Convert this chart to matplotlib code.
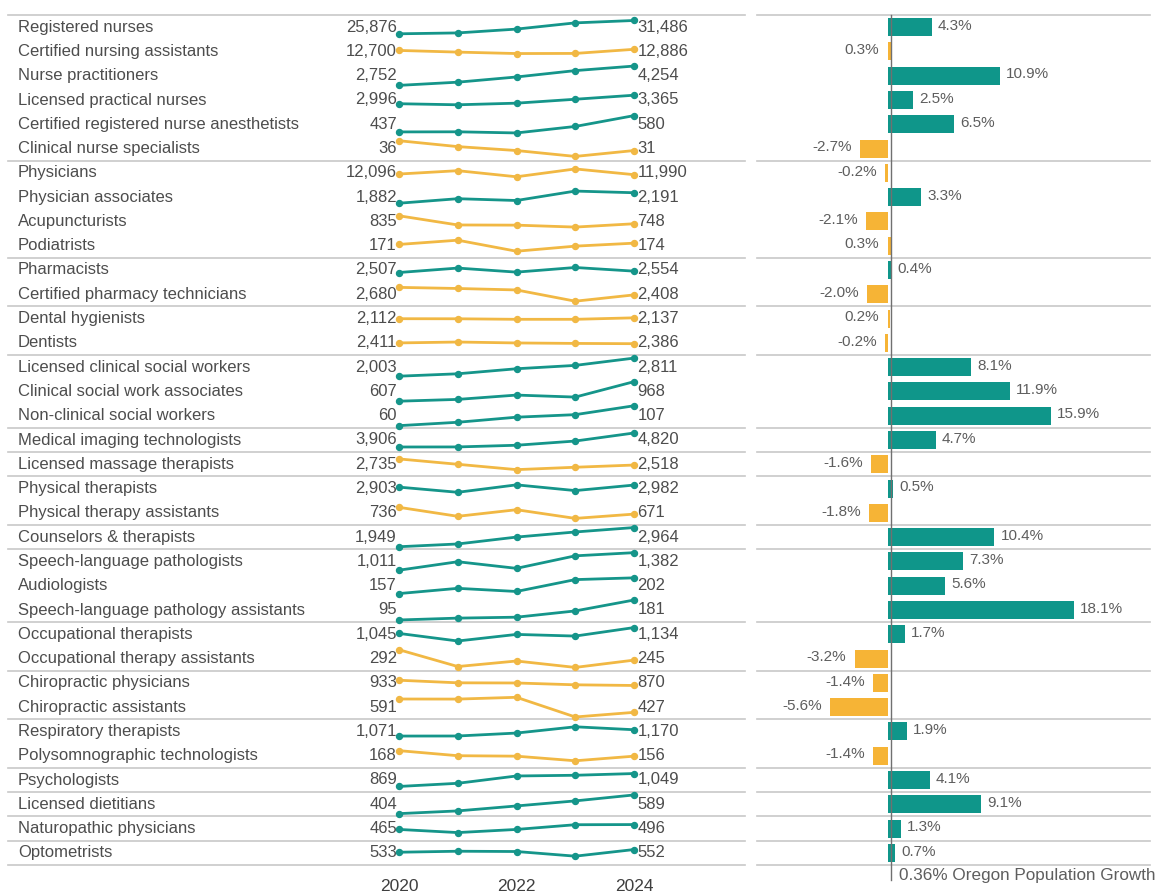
import matplotlib
matplotlib.use("Agg")
import matplotlib.pyplot as plt
import numpy as np

# ---------------- data ----------------
categories = [
    "Registered nurses", "Certified nursing assistants", "Nurse practitioners",
    "Licensed practical nurses", "Certified registered nurse anesthetists",
    "Clinical nurse specialists", "Physicians", "Physician associates",
    "Acupuncturists", "Podiatrists", "Pharmacists", "Certified pharmacy technicians",
    "Dental hygienists", "Dentists", "Licensed clinical social workers",
    "Clinical social work associates", "Non-clinical social workers",
    "Medical imaging technologists", "Licensed massage therapists",
    "Physical therapists", "Physical therapy assistants", "Counselors & therapists",
    "Speech-language pathologists", "Audiologists",
    "Speech-language pathology assistants", "Occupational therapists",
    "Occupational therapy assistants", "Chiropractic physicians",
    "Chiropractic assistants", "Respiratory therapists",
    "Polysomnographic technologists", "Psychologists", "Licensed dietitians",
    "Naturopathic physicians", "Optometrists",
]
years = [2020, 2021, 2022, 2023, 2024]
v2020 = [25876, 12700, 2752, 2996, 437, 36, 12096, 1882, 835, 171, 2507, 2680, 2112, 2411,
         2003, 607, 60, 3906, 2735, 2903, 736, 1949, 1011, 157, 95, 1045, 292, 933, 591,
         1071, 168, 869, 404, 465, 533]
v2021 = [26250, 12420, 3000, 2950, 438, 33, 12650, 2015, 735, 181, 2660, 2640, 2110, 2440,
         2110, 640, 68, 3910, 2545, 2705, 650, 2095, 1190, 172, 103, 930, 216, 902, 590,
         1072, 157, 913, 431, 445, 540]
v2022 = [27860, 12180, 3405, 3020, 428, 31, 11640, 1962, 733, 155, 2520, 2587, 2095, 2410,
         2335, 720, 80, 4020, 2355, 2990, 713, 2460, 1050, 163, 107, 1030, 241, 900, 612,
         1118, 156, 1015, 480, 465, 538]
v2023 = [30480, 12200, 3900, 3190, 485, 28, 12940, 2240, 712, 167, 2680, 2180, 2095, 2395,
         2485, 683, 86, 4295, 2440, 2770, 630, 2730, 1315, 197, 134, 1005, 212, 878, 370,
         1216, 146, 1025, 530, 495, 505]
v2024 = [31486, 12886, 4254, 3365, 580, 31, 11990, 2191, 748, 174, 2554, 2408, 2137, 2386,
         2811, 968, 107, 4820, 2518, 2982, 671, 2964, 1382, 202, 181, 1134, 245, 870, 427,
         1170, 156, 1049, 589, 496, 552]
growth = [4.3, 0.3, 10.9, 2.5, 6.5, -2.7, -0.2, 3.3, -2.1, 0.3, 0.4, -2.0, 0.2, -0.2,
          8.1, 11.9, 15.9, 4.7, -1.6, 0.5, -1.8, 10.4, 7.3, 5.6, 18.1, 1.7, -3.2, -1.4,
          -5.6, 1.9, -1.4, 4.1, 9.1, 1.3, 0.7]
group_sizes = [6, 4, 2, 2, 3, 1, 1, 2, 1, 3, 2, 2, 2, 1, 1, 1, 1]
pop_growth = 0.36
pop_label = "0.36% Oregon Population Growth"
year_ticks = [2020, 2022, 2024]

# ---------------- style ----------------
TEAL_LINE = "#15958a"
GOLD_LINE = "#f1b844"
TEAL_BAR = "#0f968a"
GOLD_BAR = "#f6b436"
TEXT = "#4d4d4d"
GRID = "#c8c8c8"

plt.rcParams['font.family'] = ['Liberation Sans', 'DejaVu Sans']

W, H = 1158, 893
fig = plt.figure(figsize=(W / 100, H / 100), dpi=100)
n = len(categories)

top_px, bot_px = 15, 865


def fy(px):
    return 1 - px / H


ax_l = fig.add_axes([8 / W, fy(bot_px), (745 - 8) / W, (bot_px - top_px) / H])
ax_r = fig.add_axes([757 / W, fy(bot_px), (1150 - 757) / W, (bot_px - top_px) / H])

px_per_year = (634 - 399) / 4
xlim_l = (2020 - (399 - 8) / px_per_year, 2024 + (745 - 634) / px_per_year)
ax_l.set_xlim(*xlim_l)
ax_l.set_ylim(n, 0)

for ax in (ax_l, ax_r):
    for s in ax.spines.values():
        s.set_visible(False)
    ax.set_yticks([])
    ax.patch.set_alpha(0)

# separators
bounds = np.cumsum([0] + group_sizes)
for b in bounds:
    ax_l.axhline(b, color=GRID, lw=1.2, clip_on=False, zorder=0)
    ax_r.axhline(b, color=GRID, lw=1.2, clip_on=False, zorder=0)

# sparklines
series = np.array([v2020, v2021, v2022, v2023, v2024], dtype=float).T
row_px = (bot_px - top_px) / n
for i in range(n):
    vals = series[i]
    color = TEAL_LINE if growth[i] > pop_growth else GOLD_LINE
    lo, hi = vals.min(), vals.max()
    r = (hi - lo) / lo * 100
    frac = (20 / row_px) * np.tanh(r / 27)
    c = (hi + lo) / 2
    half = (hi - lo) / (2 * frac) if frac > 0 else 1
    iax = ax_l.inset_axes([0, 1 - (i + 1) / n, 1, 1 / n])
    iax.set_xlim(*xlim_l)
    iax.set_ylim(c - half, c + half)
    iax.axis('off')
    iax.patch.set_alpha(0)
    iax.plot(years, vals, color=color, lw=2.0, marker='o', ms=4.3,
             solid_joinstyle='round', clip_on=False, zorder=3)

    yc = i + 0.5
    ax_l.annotate(categories[i], xy=(0, yc), xycoords=('axes fraction', 'data'),
                  xytext=(7.2, 0), textcoords='offset points', ha='left', va='center',
                  fontsize=12, color=TEXT)
    ax_l.annotate(f"{v2020[i]:,}", xy=(years[0], yc), xytext=(-1.5, 0),
                  textcoords='offset points', ha='right', va='center',
                  fontsize=12, color=TEXT)
    ax_l.annotate(f"{v2024[i]:,}", xy=(years[-1], yc), xytext=(2.5, 0),
                  textcoords='offset points', ha='left', va='center',
                  fontsize=12, color=TEXT)

ax_l.set_xticks(year_ticks)
ax_l.set_xticklabels([str(y) for y in year_ticks])
ax_l.tick_params(axis='x', length=0, pad=10, labelsize=12.5, labelcolor="#3f3f3f")

# bars
px_per_pct = 10.28
ax_r.set_xlim(-(887.5 - 757) / px_per_pct, (1150 - 887.5) / px_per_pct)
ax_r.set_ylim(n, 0)
ax_r.set_xticks([])
ypos = np.arange(n) + 0.5
bar_colors = [TEAL_BAR if g > pop_growth else GOLD_BAR for g in growth]
ax_r.barh(ypos, growth, height=0.74, color=bar_colors, zorder=2)
for i, g in enumerate(growth):
    if g > pop_growth:
        ax_r.annotate(f"{g:.1f}%", xy=(max(g, 0), ypos[i] - 0.05), xytext=(4.5, 0),
                      textcoords='offset points', ha='left', va='center',
                      fontsize=11, color="#5e5e5e")
    else:
        ax_r.annotate(f"{g:.1f}%", xy=(min(g, 0), ypos[i] - 0.05), xytext=(-6, 0),
                      textcoords='offset points', ha='right', va='center',
                      fontsize=11, color="#5e5e5e")

ax_r.plot([pop_growth, pop_growth], [0, n + 0.62], color="#707070", lw=1.0,
          clip_on=False, zorder=4)
ax_r.annotate(pop_label, xy=(pop_growth, n + 0.45), xytext=(5.5, 0),
              textcoords='offset points', ha='left', va='center',
              fontsize=12.3, color="#5e5e5e", annotation_clip=False)

fig.savefig("out.png", dpi=100, facecolor="white")
